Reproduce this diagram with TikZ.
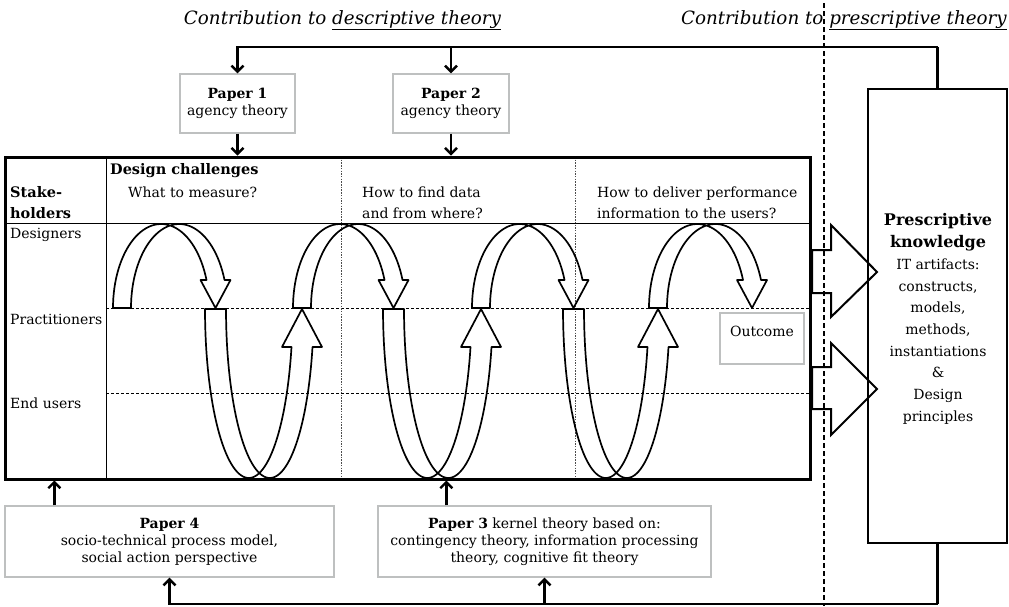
\documentclass[tikz,border=0pt]{standalone}
\usepackage{fontspec}
\setmainfont{DejaVu Serif}
\usetikzlibrary{arrows.meta}

\definecolor{boxgray}{RGB}{190,192,192}

% Curved ribbon arrow over the designers row:
% #1 = outer x of the rising leg, #2 = x of the arrow tip
\newcommand\archarrow[2]{%
  \pgfmathsetmacro\ribA{(#2-#1-9)/1.9426}%
  \draw[ribbon] plot[domain=180:340.5,samples=48,variable=\t]
      ({#1+\ribA+\ribA*cos(\t)},{308+84*sin(\t)})
    -- (#2-15,280) -- (#2,308) -- (#2+15,280)
    -- plot[domain=340.5:180,samples=48,variable=\t]
      ({#1+18+\ribA+\ribA*cos(\t)},{308+84*sin(\t)})
    -- cycle;}

% Curved ribbon loop down through practitioners and end users:
% #1 = outer x of the descending leg, #2 = x of the arrow tip
\newcommand\looparrow[2]{%
  \pgfmathsetmacro\ribB{(#2-#1-10.5)/1.9744}%
  \draw[ribbon] plot[domain=180:13,samples=64,variable=\t]
      ({#1+\ribB+\ribB*cos(\t)},{309+169*sin(\t)})
    -- (#2-20,347) -- (#2,309) -- (#2+20,347)
    -- plot[domain=13:180,samples=64,variable=\t]
      ({#1+21+\ribB+\ribB*cos(\t)},{309+169*sin(\t)})
    -- cycle;}

\begin{document}
\begin{tikzpicture}[x=1pt,y=-1pt,
  ribbon/.style={line width=1.7pt,line join=round},
  lbl/.style={inner sep=0pt,anchor=base west,font=\fontsize{14}{16}\selectfont},
  boldlbl/.style={lbl,font=\fontsize{14.5}{16}\selectfont\bfseries},
  titletext/.style={inner sep=0pt,font=\fontsize{18.3}{21}\selectfont\itshape},
  paperbox/.style={draw=boxgray,line width=1.4pt,align=center,inner sep=0pt,
    font=\fontsize{14}{17}\selectfont},
  hgrid/.style={line width=0.9pt,dash pattern=on 3pt off 2pt},
  vgrid/.style={line width=0.6pt,gray!60!black,dash pattern=on 1.5pt off 1.2pt},
  divider/.style={line width=1.6pt,dash pattern=on 5pt off 3pt},
  link/.style={line width=2.4pt,-{Straight Barb[length=6pt,width=12pt]}},
  bus/.style={line width=2.6pt},
  blockarrow/.style={line width=2pt,line join=miter}]
\useasboundingbox (0,0) rectangle (1009,606);

% titles
\node[titletext,anchor=base] (desctitle) at (342.5,24)
  {Contribution to \underline{descriptive theory}};
\node[titletext,anchor=base east] (presctitle) at (1007,24)
  {Contribution to \underline{prescriptive theory}};

% table grid
\draw[line width=1pt] (5,223) -- (810,223);
\draw[line width=1pt] (106,157) -- (106,479);
\draw[hgrid] (106,308) -- (810,308);
\draw[hgrid] (106,393) -- (810,393);
\draw[vgrid] (341,157) -- (341,479);
\draw[vgrid] (575,157) -- (575,479);

% table texts
\node[boldlbl] (design) at (110,174) {Design challenges};
\node[lbl] (q1) at (128,197) {What to measure?};
\node[lbl] (q2a) at (362,197) {How to find data};
\node[lbl] (q2b) at (362,218) {and from where?};
\node[lbl] (q3a) at (597,197) {How to deliver performance};
\node[lbl] (q3b) at (597,218) {information to the users?};
\node[boldlbl] (stake) at (10,197) {Stake-};
\node[boldlbl] (holders) at (10,218) {holders};
\node[lbl] (designers) at (10,238) {Designers};
\node[lbl] (practitioners) at (10,324) {Practitioners};
\node[lbl] (endusers) at (10,408) {End users};

% ribbon arrows of the design cycle
\archarrow{113}{215.5}
\archarrow{293}{393.5}
\archarrow{472}{573.5}
\archarrow{649}{752}
\looparrow{205}{302}
\looparrow{383}{481}
\looparrow{563}{658}

% outcome
\node[paperbox,minimum width=84pt,minimum height=51pt] (outcome) at (762,338.5) {};
\node[lbl,anchor=base] (outcometext) at (762,336) {Outcome};

% frame of the table
\node[draw,line width=3pt,minimum width=805pt,minimum height=322pt,inner sep=0pt]
  (mainbox) at (407.5,318) {};

% papers
\node[paperbox,minimum width=115pt,minimum height=59pt] (paper1) at (237.5,103.5)
  {\textbf{Paper 1}\\agency theory};
\node[paperbox,minimum width=116pt,minimum height=59pt] (paper2) at (451,103.5)
  {\textbf{Paper 2}\\agency theory};
\node[paperbox,minimum width=329pt,minimum height=71pt] (paper4) at (169.5,541.5)
  {\textbf{Paper 4}\\socio-technical process model,\\social action perspective};
\node[paperbox,minimum width=333pt,minimum height=71pt] (paper3) at (544.5,541.5)
  {\textbf{Paper 3} kernel theory based on:\\contingency theory, information processing\\theory, cognitive fit theory};

% prescriptive knowledge
\node[draw,line width=2.5pt,minimum width=139pt,minimum height=454pt,inner sep=0pt]
  (presc) at (937.5,316) {};
\node[align=center,inner sep=0pt,font=\fontsize{14}{21.7}\selectfont]
  (presctext) at (938,319)
  {{\fontsize{16}{21.7}\selectfont\bfseries Prescriptive}\\
   {\fontsize{16}{21.7}\selectfont\bfseries knowledge}\\
   IT artifacts:\\constructs,\\models,\\methods,\\instantiations\\\&\\Design\\principles};

% block arrows into prescriptive knowledge
\draw[blockarrow] (812,250) -- (831,250) -- (831,225) -- (877,272) -- (831,317)
  -- (831,293) -- (812,293) -- cycle;
\draw[blockarrow] (812,367) -- (831,367) -- (831,343) -- (877,389) -- (831,435)
  -- (831,409) -- (812,409) -- cycle;

% boundary between descriptive and prescriptive contributions
\draw[divider] (824,3) -- (824,606);

% feedback from prescriptive knowledge to the papers
\coordinate (topbus) at (presc.north |- 0,47);
\coordinate (botbus) at (presc.south |- 0,604);
\draw[bus] (presc.north) -- (topbus);
\draw[link] (topbus) -| (paper1.north);
\draw[link] (paper2.north |- topbus) -- (paper2.north);
\draw[bus] (presc.south) -- (botbus);
\draw[link] (botbus) -| (paper4.south);
\draw[link] (paper3.south |- botbus) -- (paper3.south);

% papers feeding the design cycle
\coordinate (p4up) at ([xshift=50pt]paper4.north west);
\coordinate (p3up) at ([xshift=69pt]paper3.north west);
\draw[link] (paper1.south) -- (paper1.south |- mainbox.north);
\draw[link] (paper2.south) -- (paper2.south |- mainbox.north);
\draw[link] (p4up) -- (p4up |- mainbox.south);
\draw[link] (p3up) -- (p3up |- mainbox.south);
\end{tikzpicture}
\end{document}
